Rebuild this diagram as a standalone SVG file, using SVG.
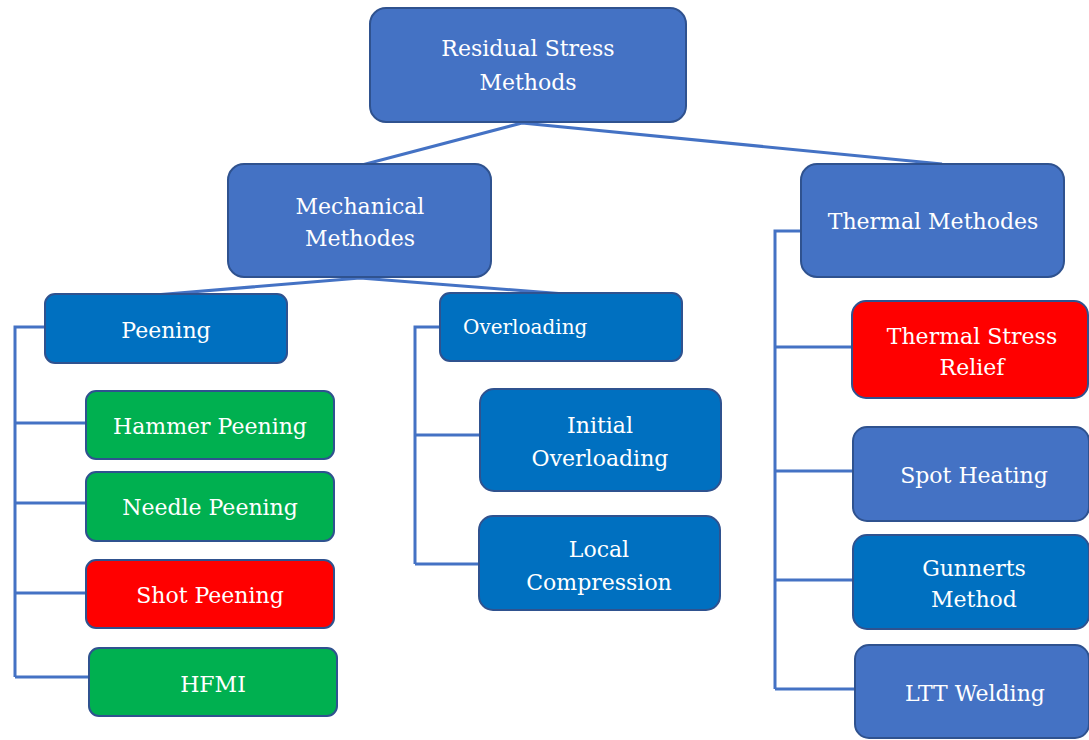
<svg xmlns="http://www.w3.org/2000/svg" width="1089" height="740" viewBox="0 0 1089 740">
<style>
.b{stroke:#2F528F;stroke-width:2}
.l{fill:#4472C4}
.d{fill:#0070C0}
.g{fill:#00B050}
.r{fill:#FF0000}
.c{fill:none;stroke:#4472C4;stroke-width:3}
</style>
<rect width="1089" height="740" fill="#FFFFFF"/>
<g id="connectors">
<path class="c" d="M522 123 L362 165 M522 123 L942 164"/>
<path class="c" d="M360 278 L155 295 M360 278 L565 294"/>
<path class="c" d="M46 327 H15 V677 M15 423 H87 M15 503 H87 M15 593 H87 M15 677 H90"/>
<path class="c" d="M441 327 H415 V564 M415 435 H481 M415 564 H480"/>
<path class="c" d="M802 231 H775 V689 M775 347 H853 M775 471 H854 M775 580 H854 M775 689 H856"/>
</g>
<g font-family="'DejaVu Serif', 'Liberation Serif', serif" font-size="22" fill="#FFFFFF" text-anchor="middle">
<g id="root"><rect class="b l" x="370" y="8" width="316" height="114" rx="16"/><text x="528" y="56">Residual Stress</text><text x="528" y="90">Methods</text></g>
<g id="mechanical"><rect class="b l" x="228" y="164" width="263" height="113" rx="16"/><text x="360" y="214">Mechanical</text><text x="360" y="246">Methodes</text></g>
<g id="thermal"><rect class="b l" x="801" y="164" width="263" height="113" rx="16"/><text x="933" y="229">Thermal Methodes</text></g>
<g id="peening"><rect class="b d" x="45" y="294" width="242" height="69" rx="10"/><text x="166" y="338">Peening</text></g>
<g id="overloading"><rect class="b d" x="440" y="293" width="242" height="68" rx="10"/><text x="463" y="334" font-size="20" text-anchor="start">Overloading</text></g>
<g id="thermal-stress-relief"><rect class="b r" x="852" y="301" width="236" height="97" rx="14"/><text x="972" y="344">Thermal Stress</text><text x="972" y="375">Relief</text></g>
<g id="hammer"><rect class="b g" x="86" y="391" width="248" height="68" rx="10"/><text x="210" y="434">Hammer Peening</text></g>
<g id="needle"><rect class="b g" x="86" y="472" width="248" height="69" rx="10"/><text x="210" y="515">Needle Peening</text></g>
<g id="shot"><rect class="b r" x="86" y="560" width="248" height="68" rx="10"/><text x="210" y="603">Shot Peening</text></g>
<g id="hfmi"><rect class="b g" x="89" y="648" width="248" height="68" rx="10"/><text x="213" y="692">HFMI</text></g>
<g id="initial-overloading"><rect class="b d" x="480" y="389" width="241" height="102" rx="14"/><text x="600" y="433">Initial</text><text x="600" y="466">Overloading</text></g>
<g id="local-compression"><rect class="b d" x="479" y="516" width="241" height="94" rx="14"/><text x="599" y="557">Local</text><text x="599" y="590">Compression</text></g>
<g id="spot-heating"><rect class="b l" x="853" y="427" width="236" height="94" rx="14"/><text x="974" y="483">Spot Heating</text></g>
<g id="gunnerts"><rect class="b d" x="853" y="535" width="236" height="94" rx="14"/><text x="974" y="576">Gunnerts</text><text x="974" y="607">Method</text></g>
<g id="ltt"><rect class="b l" x="855" y="645" width="234" height="93" rx="14"/><text x="975" y="701">LTT Welding</text></g>
</g>
</svg>
